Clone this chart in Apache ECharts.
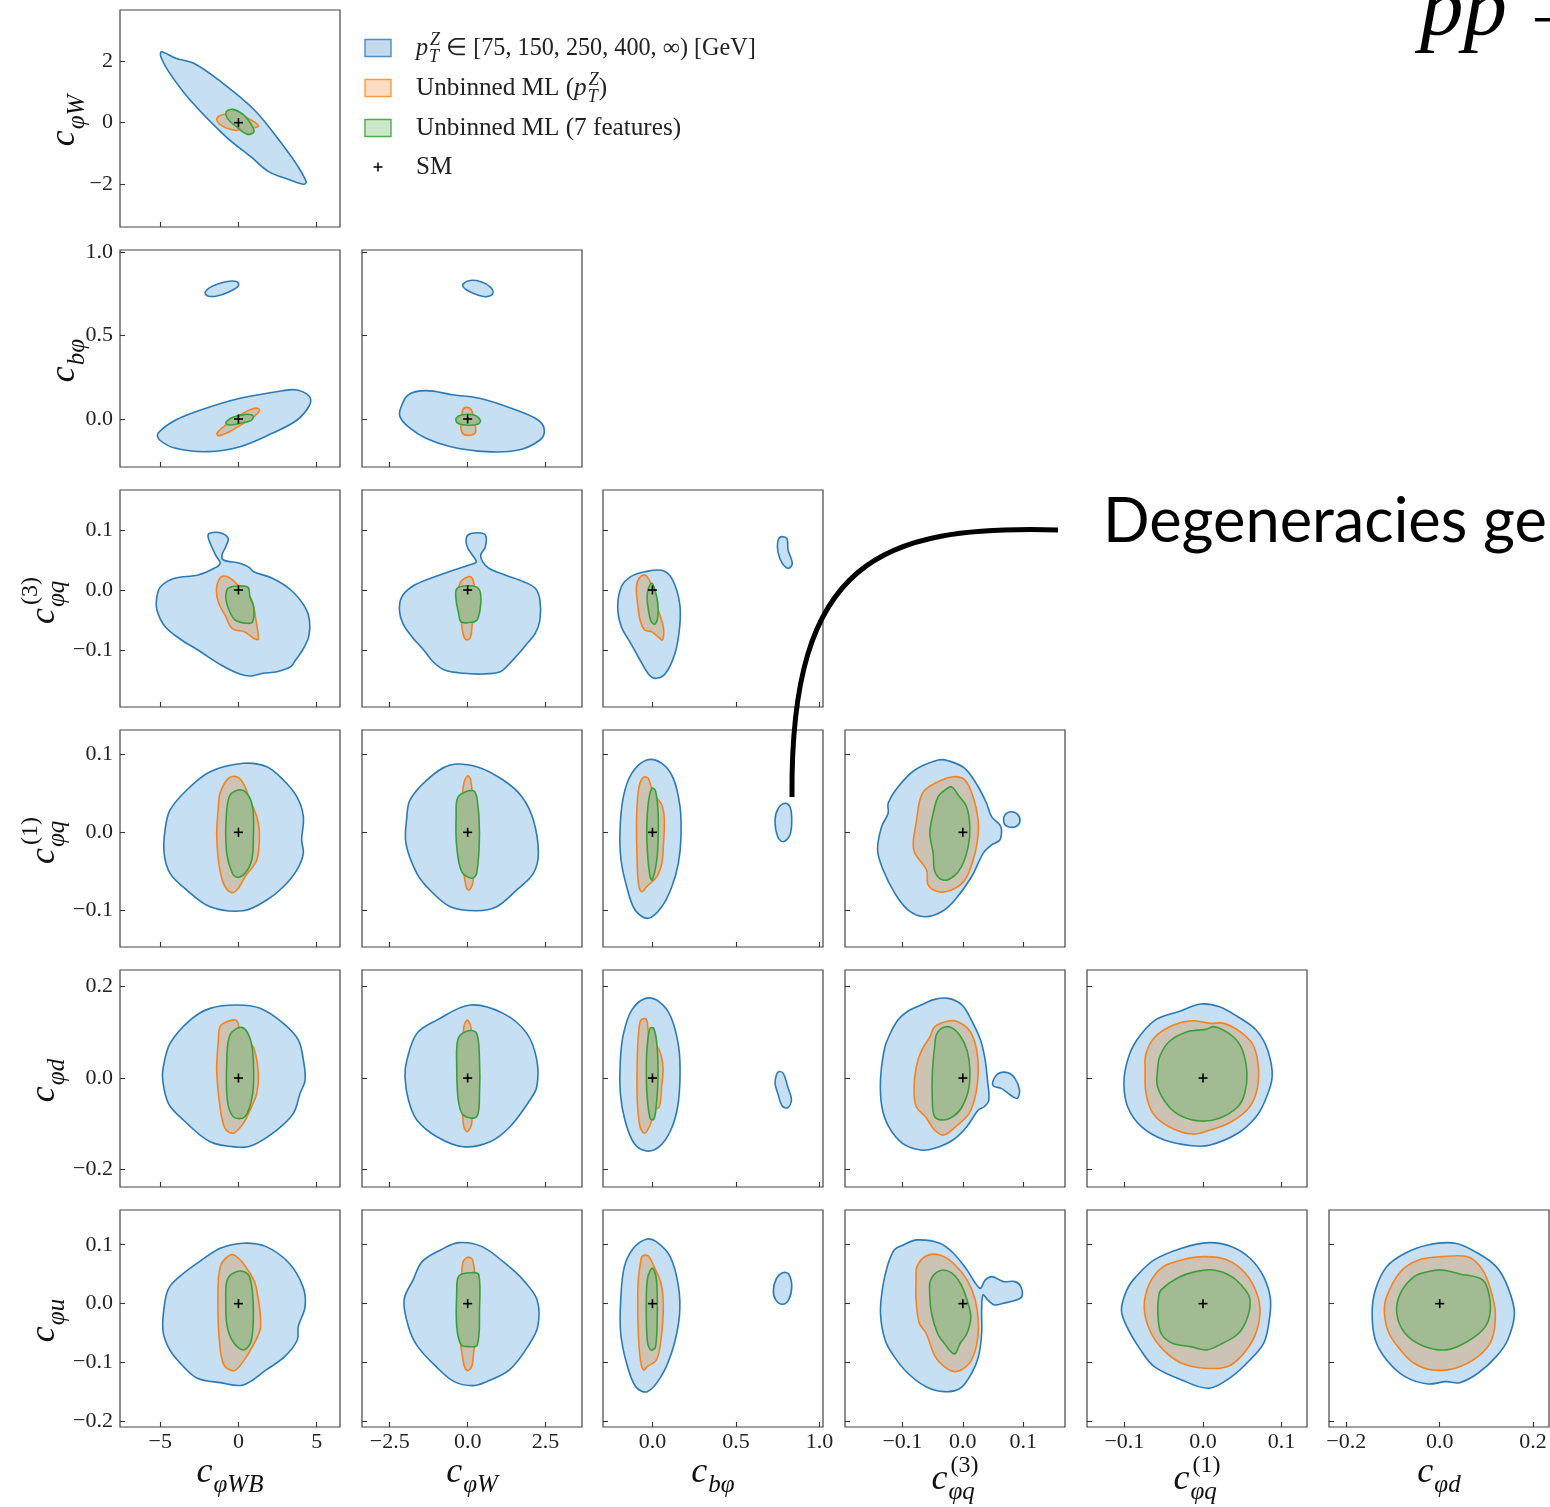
<!DOCTYPE html>
<html><head><meta charset="utf-8">
<script src="https://cdn.jsdelivr.net/npm/echarts@6/dist/echarts.min.js"></script>
<style>html,body{margin:0;padding:0;background:#fff}#c{width:1550px;height:1507px}</style>
</head><body><div id="c"></div>
<script>
// ---------------- DATA ----------------
const xRange_WB = [-7.57, 6.49], xRange_W = [-3.39, 3.67], xRange_bphi = [-0.296, 1.021],
      xRange_q3 = [-0.195, 0.169], xRange_q1 = [-0.1476, 0.1323], xRange_d = [-0.237, 0.234];
const yRange_W = [-3.37, 3.64], yRange_bphi = [-0.288, 1.014], yRange_q3 = [-0.195, 0.1667],
      yRange_q1 = [-0.1474, 0.1315], yRange_d = [-0.238, 0.236], yRange_u = [-0.2095, 0.159];
const xTicks_WB = [-5, 0, 5],        xLabels_WB = ['\u22125', '0', '5'];
const xTicks_W = [-2.5, 0, 2.5],     xLabels_W = ['\u22122.5', '0.0', '2.5'];
const xTicks_bphi = [0, 0.5, 1],     xLabels_bphi = ['0.0', '0.5', '1.0'];
const xTicks_q3 = [-0.1, 0, 0.1],    xLabels_q3 = ['\u22120.1', '0.0', '0.1'];
const xTicks_q1 = [-0.1, 0, 0.1],    xLabels_q1 = ['\u22120.1', '0.0', '0.1'];
const xTicks_d = [-0.2, 0, 0.2],     xLabels_d = ['\u22120.2', '0.0', '0.2'];
const yTicks_W = [-2, 0, 2],         yLabels_W = ['\u22122', '0', '2'];
const yTicks_bphi = [0, 0.5, 1],     yLabels_bphi = ['0.0', '0.5', '1.0'];
const yTicks_q3 = [-0.1, 0, 0.1],    yLabels_q3 = ['\u22120.1', '0.0', '0.1'];
const yTicks_q1 = [-0.1, 0, 0.1],    yLabels_q1 = ['\u22120.1', '0.0', '0.1'];
const yTicks_d = [-0.2, 0, 0.2],     yLabels_d = ['\u22120.2', '0.0', '0.2'];
const yTicks_u = [-0.2, -0.1, 0, 0.1], yLabels_u = ['\u22120.2', '\u22120.1', '0.0', '0.1'];

const xTitles = [['\u03c6WB', null], ['\u03c6W', null], ['b\u03c6', null], ['\u03c6q', '(3)'], ['\u03c6q', '(1)'], ['\u03c6d', null]];
const yTitles = [['\u03c6W', null], ['b\u03c6', null], ['\u03c6q', '(3)'], ['\u03c6q', '(1)'], ['\u03c6d', null], ['\u03c6u', null]];

const legendBinned = ' \u2208 [75, 150, 250, 400, \u221e) [GeV]';
const legendML1 = 'Unbinned ML (';
const legendML2 = 'Unbinned ML (7 features)';
const legendSM = 'SM';
const headline = ['pp', '\u2192'];
const annotation = 'Degeneracies ge';

const smPoint = [0, 0];

const WB_W_blue = [[-4.92,2.29],[-4.01,2.08],[-2.86,1.92],[-1.27,1.38],[1.02,0.41],[3.07,-0.88],[3.75,-1.37],[4.33,-1.91],[4.17,-1.99],[3.30,-1.85],[1.93,-1.58],[0.79,-1.10],[-0.81,-0.45],[-3.09,0.73],[-4.46,1.65],[-4.96,2.13]];
const WB_W_orange = [[-1.38,0.14],[-0.81,0.28],[0.10,0.25],[0.79,0.09],[1.29,-0.11],[0.68,-0.18],[-0.24,-0.24],[-1.15,-0.07]];
const WB_W_green = [[-0.77,0.36],[-0.35,0.43],[0.33,0.25],[0.90,-0.13],[0.97,-0.32],[0.55,-0.37],[-0.01,-0.18],[-0.70,0.14]];

const WB_bphi_blue = [[-5.14,-0.086],[-4.01,-0.006],[-2.41,0.054],[0.10,0.124],[2.84,0.170],[3.75,0.174],[4.55,0.134],[4.55,0.084],[3.75,-0.006],[2.15,-0.086],[0.10,-0.166],[-1.95,-0.196],[-4.01,-0.176],[-5.04,-0.126]];
const WB_bphi_island = [[-2.13,0.758],[-1.73,0.794],[-0.81,0.824],[-0.08,0.824],[-0.01,0.798],[-0.58,0.764],[-1.38,0.738],[-1.95,0.738]];
const WB_bphi_orange = [[-1.38,-0.086],[-0.81,-0.036],[0.10,0.024],[1.02,0.064],[1.34,0.058],[1.12,0.024],[0.33,-0.026],[-0.58,-0.076],[-1.27,-0.100]];
const WB_bphi_green = [[-0.81,-0.022],[-0.35,0.010],[0.45,0.028],[0.95,0.018],[0.79,-0.010],[0.10,-0.026],[-0.58,-0.036]];

const W_bphi_blue = [[-2.15,0.064],[-1.91,0.144],[-1.34,0.170],[-0.43,0.144],[0.38,0.124],[1.40,0.064],[2.26,-0.006],[2.46,-0.066],[2.32,-0.126],[1.64,-0.186],[0.60,-0.196],[-0.54,-0.166],[-1.34,-0.116],[-1.91,-0.046],[-2.17,0.014]];
const W_bphi_island = [[-0.16,0.804],[0.03,0.830],[0.43,0.824],[0.74,0.790],[0.81,0.754],[0.60,0.734],[0.32,0.744],[-0.03,0.774]];
const W_bphi_orange = [[-0.16,0.054],[-0.03,0.070],[0.12,0.054],[0.20,-0.006],[0.26,-0.076],[0.12,-0.096],[-0.14,-0.090],[-0.22,-0.046],[-0.18,0.004]];
const W_bphi_green = [[-0.37,0.004],[-0.20,0.024],[0.20,0.024],[0.41,-0.010],[0.32,-0.032],[-0.08,-0.036],[-0.34,-0.022]];

const WB_q3_blue = [[-1.85,0.0945],[-1.17,0.0955],[-0.66,0.0862],[-0.81,0.0722],[-1.05,0.0583],[-0.96,0.0500],[0.08,0.0445],[0.68,0.0378],[0.97,0.0305],[2.17,0.0195],[3.35,0.0],[4.24,-0.0278],[4.54,-0.050],[4.49,-0.0778],[4.10,-0.100],[3.65,-0.1167],[3.35,-0.1278],[2.46,-0.1362],[1.57,-0.1388],[0.82,-0.1433],[0.08,-0.140],[-1.11,-0.125],[-2.59,-0.100],[-3.64,-0.0833],[-4.68,-0.0612],[-5.21,-0.0333],[-5.21,-0.0112],[-4.98,0.0055],[-4.08,0.0195],[-2.59,0.025],[-1.55,0.0362],[-1.17,0.0445],[-1.46,0.0583],[-1.76,0.075],[-1.94,0.0888]];
const WB_q3_orange = [[-1.26,0.0167],[-0.96,0.0233],[-0.51,0.0195],[0.08,0.0055],[0.68,-0.0083],[0.97,-0.0278],[1.12,-0.050],[1.27,-0.0822],[0.97,-0.0805],[0.38,-0.0695],[-0.22,-0.0667],[-0.51,-0.0612],[-0.81,-0.0445],[-1.26,-0.0222],[-1.41,0.0]];
const WB_q3_green = [[-0.66,0.0028],[-0.07,0.0067],[0.61,0.0045],[0.73,-0.0112],[0.97,-0.0278],[0.91,-0.0528],[0.52,-0.0555],[-0.22,-0.050],[-0.51,-0.0388],[-0.75,-0.0222],[-0.81,-0.0083]];

const W_q3_blue = [[0.01,0.0917],[0.33,0.0955],[0.57,0.0917],[0.57,0.0722],[0.42,0.0583],[0.48,0.0472],[0.68,0.0362],[1.20,0.025],[1.80,0.0138],[2.17,0.0028],[2.32,-0.0167],[2.32,-0.050],[2.17,-0.0722],[1.87,-0.0917],[1.65,-0.1055],[1.35,-0.1222],[1.05,-0.1362],[0.46,-0.140],[-0.14,-0.1388],[-0.74,-0.1333],[-1.11,-0.1195],[-1.41,-0.100],[-1.79,-0.0778],[-2.08,-0.0555],[-2.19,-0.0333],[-2.11,-0.0112],[-1.79,0.0055],[-1.19,0.0195],[-0.44,0.0333],[0.15,0.0433],[0.28,0.0472],[0.15,0.0583],[0.01,0.0695],[-0.05,0.0805]];
const W_q3_orange = [[-0.25,0.0112],[0.01,0.0222],[0.15,0.0195],[0.23,0.0],[0.23,-0.0278],[0.15,-0.0555],[0.08,-0.0805],[-0.07,-0.0822],[-0.17,-0.0667],[-0.22,-0.0388],[-0.26,-0.0112]];
const W_q3_green = [[-0.34,0.0028],[0.15,0.0067],[0.38,0.0],[0.42,-0.0222],[0.30,-0.050],[0.01,-0.0545],[-0.22,-0.0528],[-0.29,-0.0388],[-0.37,-0.0167]];

const bphi_q3_blue = [[-0.046,0.0305],[0.065,0.0322],[0.121,0.0167],[0.163,-0.0222],[0.163,-0.0612],[0.135,-0.1055],[0.079,-0.1388],[0.023,-0.1472],[-0.019,-0.1417],[-0.074,-0.1167],[-0.130,-0.0888],[-0.186,-0.0612],[-0.208,-0.0278],[-0.186,0.0055],[-0.130,0.0222]];
const bphi_q3_island = [[0.762,0.0878],[0.804,0.0862],[0.812,0.0667],[0.837,0.0445],[0.817,0.0362],[0.790,0.040],[0.762,0.0528],[0.748,0.0722]];
const bphi_q3_orange = [[-0.080,0.0195],[-0.046,0.025],[-0.019,0.0167],[0.010,-0.0055],[0.038,-0.0362],[0.065,-0.0612],[0.060,-0.0833],[0.032,-0.0778],[-0.004,-0.0695],[-0.046,-0.0667],[-0.074,-0.050],[-0.089,-0.0222],[-0.096,0.0055]];
const bphi_q3_green = [[-0.024,0.0028],[-0.004,0.0112],[0.015,0.0],[0.032,-0.0222],[0.032,-0.0445],[0.015,-0.0567],[-0.007,-0.0528],[-0.024,-0.0333],[-0.032,-0.0112]];

const WB_q1_blue = [[-4.37,0.0287],[-3.30,0.0544],[-1.81,0.0779],[0.31,0.0887],[1.81,0.0843],[2.87,0.0672],[3.73,0.0458],[4.15,0.0201],[4.04,-0.0099],[4.15,-0.0270],[3.73,-0.0485],[2.87,-0.0699],[1.81,-0.0870],[0.31,-0.1008],[-1.81,-0.0956],[-3.30,-0.0742],[-4.37,-0.0527],[-4.75,-0.0270],[-4.69,0.0030]];
const WB_q1_orange = [[-1.18,0.0501],[-0.65,0.0694],[-0.11,0.0715],[0.31,0.0630],[0.74,0.0415],[1.17,0.0201],[1.34,-0.0013],[1.17,-0.0356],[0.42,-0.0571],[-0.01,-0.0720],[-0.43,-0.0776],[-0.96,-0.0656],[-1.28,-0.0356],[-1.39,-0.0013],[-1.28,0.0329]];
const WB_q1_green = [[-0.54,0.0479],[0.21,0.0544],[0.74,0.0437],[0.95,0.0244],[0.95,-0.0099],[0.85,-0.0356],[0.42,-0.0527],[-0.11,-0.0578],[-0.43,-0.0506],[-0.75,-0.0270],[-0.79,0.0158]];

const W_q1_blue = [[-1.85,0.0415],[-1.31,0.0672],[-0.56,0.0865],[0.29,0.0843],[1.14,0.0672],[1.74,0.0458],[2.11,0.0158],[2.27,-0.0270],[2.11,-0.0527],[1.57,-0.0742],[0.93,-0.0956],[0.29,-0.1008],[-0.56,-0.0956],[-1.21,-0.0742],[-1.63,-0.0527],[-1.98,-0.0141],[-1.95,0.0201]];
const W_q1_orange = [[-0.14,0.0586],[-0.01,0.0724],[0.10,0.0672],[0.18,0.0244],[0.16,-0.0270],[0.18,-0.0613],[0.05,-0.0742],[-0.05,-0.0699],[-0.16,-0.0356],[-0.19,0.0158]];
const W_q1_green = [[-0.30,0.0458],[0.18,0.0535],[0.31,0.0415],[0.38,-0.0013],[0.29,-0.0527],[0.13,-0.0591],[-0.19,-0.0506],[-0.35,-0.0185],[-0.37,0.0201]];

const bphi_q1_blue = [[-0.034,0.0929],[0.056,0.0887],[0.125,0.0694],[0.165,0.0329],[0.171,-0.0057],[0.155,-0.0398],[0.116,-0.0699],[0.056,-0.0956],[-0.025,-0.1105],[-0.104,-0.0999],[-0.154,-0.0699],[-0.188,-0.0356],[-0.194,0.0030],[-0.174,0.0458],[-0.124,0.0758]];
const bphi_q1_island = [[0.794,0.0373],[0.823,0.0329],[0.834,0.0158],[0.823,-0.0035],[0.783,-0.0121],[0.750,-0.0057],[0.734,0.0158],[0.753,0.0308]];
const bphi_q1_orange = [[-0.054,0.0707],[-0.025,0.0694],[0.005,0.0501],[0.056,0.0351],[0.071,0.0158],[0.065,-0.0185],[0.056,-0.0398],[0.026,-0.0571],[-0.034,-0.0699],[-0.064,-0.0763],[-0.084,-0.0656],[-0.094,-0.0185],[-0.094,0.0244],[-0.080,0.0586]];
const bphi_q1_green = [[-0.004,0.0566],[0.016,0.0544],[0.032,0.0329],[0.035,-0.0013],[0.026,-0.0356],[-0.001,-0.0613],[-0.014,-0.0571],[-0.028,-0.0314],[-0.034,0.0030],[-0.025,0.0373]];

const q3_q1_blue = [[-0.1236,0.0373],[-0.1070,0.0586],[-0.0794,0.0801],[-0.0409,0.0929],[-0.0243,0.0920],[0.0033,0.0823],[0.0253,0.0586],[0.0392,0.0373],[0.0475,0.0201],[0.0612,0.0094],[0.0640,0.0030],[0.0612,-0.0099],[0.0475,-0.0163],[0.0336,-0.0270],[0.0144,-0.0571],[-0.0132,-0.0870],[-0.0352,-0.1021],[-0.0629,-0.1085],[-0.0905,-0.0999],[-0.1125,-0.0784],[-0.1318,-0.0485],[-0.1411,-0.0228],[-0.1345,0.0072],[-0.1236,0.0244]];
const q3_q1_island = [[0.0695,0.0222],[0.0806,0.0265],[0.0915,0.0222],[0.0943,0.0136],[0.0872,0.0072],[0.0749,0.0072],[0.0683,0.0116]];
const q3_q1_orange = [[-0.0629,0.0544],[-0.0409,0.0650],[-0.0160,0.0715],[0.0033,0.0672],[0.0170,0.0458],[0.0253,0.0158],[0.0243,-0.0099],[0.0170,-0.0356],[0.0033,-0.0613],[-0.0187,-0.0742],[-0.0409,-0.0763],[-0.0574,-0.0677],[-0.0600,-0.0485],[-0.0794,-0.0270],[-0.0822,-0.0141],[-0.0766,0.0158],[-0.0711,0.0415]];
const q3_q1_green = [[-0.0409,0.0458],[-0.0298,0.0544],[-0.0187,0.0586],[-0.0078,0.0479],[0.0061,0.0329],[0.0116,0.0072],[0.0088,-0.0185],[-0.0022,-0.0442],[-0.0160,-0.0571],[-0.0326,-0.0613],[-0.0463,-0.0506],[-0.0491,-0.0270],[-0.0546,-0.0013],[-0.0491,0.0244]];

const WB_d_blue = [[-4.80,0.0247],[-4.37,0.0758],[-3.09,0.1266],[-1.81,0.1522],[-0.11,0.1594],[1.38,0.1522],[2.87,0.1194],[3.83,0.0830],[4.15,0.0393],[4.26,-0.0044],[3.94,-0.0334],[3.51,-0.0771],[2.45,-0.1135],[0.95,-0.1463],[0.10,-0.1513],[-1.81,-0.1391],[-3.52,-0.0917],[-4.48,-0.0552],[-4.84,-0.0044]];
const WB_d_orange = [[-1.18,0.1120],[-0.75,0.1229],[-0.15,0.1266],[0.10,0.1048],[0.42,0.0830],[0.95,0.0683],[1.27,0.0103],[1.17,-0.0334],[0.74,-0.0699],[0.31,-0.0989],[-0.33,-0.1207],[-0.86,-0.1098],[-1.18,-0.0627],[-1.39,0.0175],[-1.28,0.0830]];
const WB_d_green = [[-0.54,0.0939],[0.21,0.1107],[0.74,0.0867],[0.95,0.0393],[0.91,-0.0334],[0.42,-0.0845],[-0.33,-0.0845],[-0.71,-0.0480],[-0.75,0.0321]];

const W_d_blue = [[-1.95,0.0393],[-1.63,0.0976],[-0.99,0.1266],[0.08,0.1594],[1.14,0.1413],[1.90,0.0976],[2.22,0.0393],[2.22,-0.0190],[2.00,-0.0480],[1.36,-0.1063],[0.72,-0.1391],[-0.14,-0.1500],[-0.99,-0.1282],[-1.63,-0.0917],[-1.90,-0.0480],[-2.01,0.0028]];
const W_d_orange = [[-0.12,0.1120],[-0.01,0.1266],[0.10,0.1120],[0.18,0.0539],[0.16,-0.0334],[0.13,-0.0989],[-0.01,-0.1172],[-0.12,-0.1063],[-0.19,-0.0480],[-0.19,0.0393]];
const W_d_green = [[-0.30,0.0867],[0.02,0.1033],[0.29,0.0976],[0.38,0.0393],[0.38,-0.0334],[0.29,-0.0845],[-0.14,-0.0808],[-0.30,-0.0480],[-0.35,0.0247]];

const bphi_d_blue = [[-0.041,0.1740],[0.041,0.1666],[0.110,0.1338],[0.157,0.0683],[0.165,0.0028],[0.151,-0.0627],[0.110,-0.1135],[0.041,-0.1500],[-0.036,-0.1594],[-0.110,-0.1426],[-0.165,-0.0917],[-0.192,-0.0334],[-0.192,0.0393],[-0.173,0.0976],[-0.124,0.1485]];
const bphi_d_island = [[0.756,0.0138],[0.783,0.0103],[0.810,-0.0190],[0.832,-0.0480],[0.810,-0.0648],[0.777,-0.0611],[0.750,-0.0334],[0.734,-0.0116],[0.742,0.0066]];
const bphi_d_orange = [[-0.069,0.1266],[-0.036,0.1282],[-0.019,0.0902],[0.041,0.0611],[0.063,0.0247],[0.055,-0.0190],[0.041,-0.0627],[0.014,-0.0699],[-0.014,-0.1026],[-0.047,-0.1207],[-0.074,-0.1063],[-0.091,-0.0480],[-0.091,0.0393],[-0.083,0.0976]];
const bphi_d_green = [[-0.014,0.1085],[0.008,0.1085],[0.028,0.0683],[0.033,-0.0044],[0.022,-0.0627],[0.008,-0.0902],[-0.014,-0.0880],[-0.033,-0.0334],[-0.036,0.0393],[-0.028,0.0830]];

const q3_d_blue = [[-0.0923,0.1448],[-0.0695,0.1594],[-0.0467,0.1718],[-0.0240,0.1740],[-0.0012,0.1594],[0.0141,0.1266],[0.0293,0.0830],[0.0369,0.0393],[0.0407,-0.0044],[0.0430,-0.0480],[0.0354,-0.0627],[0.0255,-0.0699],[0.0065,-0.1063],[-0.0164,-0.1354],[-0.0467,-0.1535],[-0.0695,-0.1572],[-0.0999,-0.1426],[-0.1227,-0.1063],[-0.1340,-0.0627],[-0.1363,-0.0044],[-0.1302,0.0611],[-0.1227,0.0902],[-0.1075,0.1266]];
const q3_d_island = [[0.0505,-0.0044],[0.0596,0.0103],[0.0748,0.0116],[0.0862,-0.0007],[0.0938,-0.0262],[0.0900,-0.0443],[0.0786,-0.0371],[0.0634,-0.0225],[0.0505,-0.0175]];
const q3_d_orange = [[-0.0467,0.1120],[-0.0240,0.1245],[-0.0088,0.1229],[0.0103,0.1048],[0.0217,0.0683],[0.0255,0.0175],[0.0217,-0.0334],[0.0103,-0.0771],[-0.0088,-0.1026],[-0.0314,-0.1245],[-0.0467,-0.1135],[-0.0619,-0.0845],[-0.0771,-0.0627],[-0.0809,-0.0262],[-0.0771,0.0247],[-0.0680,0.0611],[-0.0543,0.0902]];
const q3_d_green = [[-0.0428,0.0976],[-0.0278,0.1120],[-0.0126,0.1048],[0.0026,0.0758],[0.0103,0.0393],[0.0103,-0.0190],[-0.0012,-0.0627],[-0.0164,-0.0845],[-0.0314,-0.0917],[-0.0467,-0.0845],[-0.0505,-0.0480],[-0.0505,0.0103],[-0.0467,0.0683]];

const q1_d_blue = [[-0.0959,0.0393],[-0.0842,0.0830],[-0.0609,0.1266],[-0.0317,0.1448],[-0.0025,0.1616],[0.0209,0.1557],[0.0443,0.1338],[0.0676,0.1048],[0.0822,0.0611],[0.0880,0.0028],[0.0793,-0.0480],[0.0676,-0.0845],[0.0443,-0.1207],[0.0092,-0.1463],[-0.0141,-0.1478],[-0.0492,-0.1354],[-0.0784,-0.1063],[-0.0959,-0.0627],[-0.1006,-0.0116]];
const q1_d_orange = [[-0.0725,0.0539],[-0.0609,0.0902],[-0.0375,0.1157],[-0.0141,0.1251],[0.0092,0.1194],[0.0267,0.1194],[0.0501,0.0976],[0.0648,0.0683],[0.0706,0.0175],[0.0676,-0.0334],[0.0560,-0.0699],[0.0326,-0.0989],[0.0092,-0.1135],[-0.0141,-0.1223],[-0.0433,-0.1063],[-0.0637,-0.0771],[-0.0725,-0.0334],[-0.0737,0.0175]];
const q1_d_green = [[-0.0551,0.0465],[-0.0434,0.0793],[-0.0200,0.1011],[0.0033,0.1063],[0.0150,0.1120],[0.0384,0.0902],[0.0501,0.0611],[0.0559,0.0103],[0.0531,-0.0334],[0.0443,-0.0627],[0.0209,-0.0880],[-0.0025,-0.0939],[-0.0258,-0.0845],[-0.0434,-0.0627],[-0.0579,-0.0190],[-0.0579,0.0175]];

const WB_u_blue = [[-4.68,0.0063],[-4.39,0.0289],[-3.51,0.0516],[-2.34,0.0742],[-1.16,0.0941],[0.30,0.1026],[1.77,0.0968],[3.24,0.0686],[4.12,0.0289],[4.26,-0.0051],[3.82,-0.0391],[3.76,-0.0617],[2.95,-0.0900],[1.77,-0.1126],[0.30,-0.1381],[-1.16,-0.1342],[-2.63,-0.1267],[-3.51,-0.1070],[-4.39,-0.0786],[-4.83,-0.0447]];
const WB_u_orange = [[-1.16,0.0628],[-0.52,0.0827],[0.01,0.0771],[0.74,0.0516],[1.12,0.0289],[1.42,-0.0391],[0.89,-0.0730],[0.30,-0.0985],[-0.28,-0.1138],[-0.93,-0.1041],[-1.22,-0.0617],[-1.31,0.0063]];
const WB_u_green = [[-0.72,0.0403],[-0.28,0.0526],[0.36,0.0543],[0.74,0.0431],[0.95,-0.0051],[0.83,-0.0617],[0.36,-0.0786],[-0.28,-0.0673],[-0.72,-0.0391],[-0.81,0.0063]];

const W_u_blue = [[-1.75,0.0403],[-1.46,0.0713],[-0.87,0.0912],[-0.28,0.1036],[0.46,0.0968],[1.20,0.0686],[1.78,0.0403],[2.23,0.0063],[2.25,-0.0391],[1.93,-0.0730],[1.34,-0.1126],[0.61,-0.1325],[0.16,-0.1393],[-0.43,-0.1325],[-1.01,-0.1070],[-1.60,-0.0730],[-1.90,-0.0391],[-2.04,0.0063]];
const W_u_orange = [[-0.16,0.0686],[-0.01,0.0788],[0.16,0.0742],[0.24,0.0346],[0.27,-0.0391],[0.19,-0.0842],[0.13,-0.1070],[-0.01,-0.1138],[-0.13,-0.1012],[-0.25,-0.0503],[-0.21,0.0063]];
const W_u_green = [[-0.28,0.0470],[0.16,0.0526],[0.36,0.0487],[0.38,-0.0107],[0.31,-0.0701],[0.02,-0.0730],[-0.21,-0.0701],[-0.35,-0.0391],[-0.35,0.0177]];

const bphi_u_blue = [[-0.037,0.1094],[0.023,0.1053],[0.106,0.0798],[0.156,0.0289],[0.161,-0.0221],[0.120,-0.0786],[0.051,-0.1240],[-0.031,-0.1495],[-0.100,-0.1410],[-0.155,-0.1012],[-0.190,-0.0503],[-0.190,0.0063],[-0.168,0.0628],[-0.114,0.0941]];
const bphi_u_island = [[0.779,0.0526],[0.815,0.0504],[0.834,0.0289],[0.815,0.0063],[0.779,-0.0010],[0.738,0.0063],[0.724,0.0233],[0.743,0.0431]];
const bphi_u_orange = [[-0.059,0.0810],[-0.026,0.0810],[0.010,0.0628],[0.051,0.0346],[0.065,-0.0051],[0.051,-0.0617],[0.024,-0.0956],[-0.031,-0.1070],[-0.053,-0.1126],[-0.072,-0.0956],[-0.086,-0.0391],[-0.086,0.0346],[-0.072,0.0686]];
const bphi_u_green = [[-0.017,0.0543],[0.002,0.0601],[0.024,0.0403],[0.029,-0.0107],[0.019,-0.0730],[-0.009,-0.0786],[-0.031,-0.0617],[-0.037,0.0063],[-0.031,0.0403]];

const q3_u_blue = [[-0.1136,0.0912],[-0.0986,0.0997],[-0.0759,0.1082],[-0.0382,0.1026],[-0.0156,0.0856],[0.0069,0.0572],[0.0281,0.0262],[0.0372,0.0403],[0.0485,0.0459],[0.0673,0.0374],[0.0862,0.0374],[0.0959,0.0289],[0.0976,0.0119],[0.0885,0.0063],[0.0673,0.0007],[0.0523,-0.0022],[0.0410,0.0063],[0.0334,0.0148],[0.0311,-0.0107],[0.0311,-0.0503],[0.0258,-0.0900],[0.0146,-0.1182],[-0.0043,-0.1437],[-0.0308,-0.1495],[-0.0609,-0.1410],[-0.0910,-0.1182],[-0.1136,-0.0900],[-0.1287,-0.0617],[-0.1363,-0.0163],[-0.1325,0.0289],[-0.1251,0.0628]];
const q3_u_orange = [[-0.0759,0.0628],[-0.0609,0.0810],[-0.0382,0.0827],[-0.0156,0.0686],[0.0069,0.0403],[0.0205,0.0063],[0.0258,-0.0391],[0.0222,-0.0730],[0.0108,-0.1012],[-0.0119,-0.1155],[-0.0308,-0.1070],[-0.0458,-0.0900],[-0.0609,-0.0503],[-0.0721,-0.0333],[-0.0774,0.0063],[-0.0774,0.0403]];
const q3_u_green = [[-0.0533,0.0403],[-0.0382,0.0560],[-0.0194,0.0526],[-0.0043,0.0346],[0.0069,0.0063],[0.0131,-0.0221],[0.0069,-0.0503],[-0.0043,-0.0673],[-0.0141,-0.0854],[-0.0308,-0.0673],[-0.0420,-0.0503],[-0.0518,-0.0163],[-0.0549,0.0177]];

const q1_u_blue = [[-0.0852,0.0459],[-0.0621,0.0742],[-0.0272,0.0941],[0.0075,0.1036],[0.0365,0.0968],[0.0598,0.0771],[0.0771,0.0459],[0.0859,0.0063],[0.0830,-0.0391],[0.0771,-0.0673],[0.0598,-0.0956],[0.0365,-0.1240],[0.0075,-0.1437],[-0.0272,-0.1296],[-0.0621,-0.1070],[-0.0795,-0.0786],[-0.0969,-0.0391],[-0.1038,-0.0107],[-0.0969,0.0233]];
const q1_u_orange = [[-0.0679,0.0346],[-0.0505,0.0628],[-0.0272,0.0742],[0.0018,0.0798],[0.0308,0.0742],[0.0539,0.0516],[0.0684,0.0177],[0.0725,-0.0163],[0.0655,-0.0560],[0.0481,-0.0900],[0.0308,-0.1070],[0.0018,-0.1097],[-0.0272,-0.1012],[-0.0505,-0.0786],[-0.0679,-0.0447],[-0.0748,-0.0051]];
const q1_u_green = [[-0.0534,0.0233],[-0.0331,0.0431],[-0.0099,0.0543],[0.0134,0.0572],[0.0365,0.0459],[0.0539,0.0233],[0.0598,0.0063],[0.0569,-0.0221],[0.0453,-0.0503],[0.0249,-0.0673],[0.0046,-0.0786],[-0.0156,-0.0730],[-0.0389,-0.0673],[-0.0534,-0.0503],[-0.0575,-0.0163],[-0.0564,0.0119]];

const d_u_blue = [[-0.1378,0.0233],[-0.1136,0.0628],[-0.0743,0.0856],[-0.0255,0.0997],[0.0332,0.1026],[0.0818,0.0856],[0.1210,0.0628],[0.1455,0.0289],[0.1600,-0.0163],[0.1455,-0.0617],[0.1210,-0.0900],[0.0818,-0.1182],[0.0428,-0.1342],[0.0135,-0.1325],[-0.0255,-0.1364],[-0.0743,-0.1240],[-0.1136,-0.0956],[-0.1378,-0.0617],[-0.1446,-0.0163]];
const d_u_orange = [[-0.1136,0.0119],[-0.0840,0.0543],[-0.0450,0.0742],[0.0039,0.0798],[0.0626,0.0788],[0.0919,0.0572],[0.1093,0.0233],[0.1191,-0.0163],[0.1112,-0.0617],[0.0818,-0.0900],[0.0332,-0.1097],[-0.0156,-0.1126],[-0.0548,-0.1012],[-0.0840,-0.0786],[-0.1086,-0.0503],[-0.1183,-0.0163]];
const d_u_green = [[-0.0840,0.0177],[-0.0548,0.0459],[-0.0255,0.0543],[0.0039,0.0572],[0.0428,0.0504],[0.0919,0.0403],[0.1065,0.0119],[0.1065,-0.0221],[0.0919,-0.0447],[0.0527,-0.0673],[0.0135,-0.0786],[-0.0354,-0.0718],[-0.0743,-0.0503],[-0.0919,-0.0163]];

// ---------------- ASSEMBLY ----------------
const xAxesDef = [
  {range: xRange_WB, ticks: xTicks_WB, labels: xLabels_WB},
  {range: xRange_W, ticks: xTicks_W, labels: xLabels_W},
  {range: xRange_bphi, ticks: xTicks_bphi, labels: xLabels_bphi},
  {range: xRange_q3, ticks: xTicks_q3, labels: xLabels_q3},
  {range: xRange_q1, ticks: xTicks_q1, labels: xLabels_q1},
  {range: xRange_d, ticks: xTicks_d, labels: xLabels_d}];
const yAxesDef = [
  {range: yRange_W, ticks: yTicks_W, labels: yLabels_W},
  {range: yRange_bphi, ticks: yTicks_bphi, labels: yLabels_bphi},
  {range: yRange_q3, ticks: yTicks_q3, labels: yLabels_q3},
  {range: yRange_q1, ticks: yTicks_q1, labels: yLabels_q1},
  {range: yRange_d, ticks: yTicks_d, labels: yLabels_d},
  {range: yRange_u, ticks: yTicks_u, labels: yLabels_u}];

const panels = [
  {r:0,c:0, blue:[WB_W_blue], orange:WB_W_orange, green:WB_W_green},
  {r:1,c:0, blue:[WB_bphi_blue, WB_bphi_island], orange:WB_bphi_orange, green:WB_bphi_green},
  {r:1,c:1, blue:[W_bphi_blue, W_bphi_island], orange:W_bphi_orange, green:W_bphi_green},
  {r:2,c:0, blue:[WB_q3_blue], orange:WB_q3_orange, green:WB_q3_green},
  {r:2,c:1, blue:[W_q3_blue], orange:W_q3_orange, green:W_q3_green},
  {r:2,c:2, blue:[bphi_q3_blue, bphi_q3_island], orange:bphi_q3_orange, green:bphi_q3_green},
  {r:3,c:0, blue:[WB_q1_blue], orange:WB_q1_orange, green:WB_q1_green},
  {r:3,c:1, blue:[W_q1_blue], orange:W_q1_orange, green:W_q1_green},
  {r:3,c:2, blue:[bphi_q1_blue, bphi_q1_island], orange:bphi_q1_orange, green:bphi_q1_green},
  {r:3,c:3, blue:[q3_q1_blue, q3_q1_island], orange:q3_q1_orange, green:q3_q1_green},
  {r:4,c:0, blue:[WB_d_blue], orange:WB_d_orange, green:WB_d_green},
  {r:4,c:1, blue:[W_d_blue], orange:W_d_orange, green:W_d_green},
  {r:4,c:2, blue:[bphi_d_blue, bphi_d_island], orange:bphi_d_orange, green:bphi_d_green},
  {r:4,c:3, blue:[q3_d_blue, q3_d_island], orange:q3_d_orange, green:q3_d_green},
  {r:4,c:4, blue:[q1_d_blue], orange:q1_d_orange, green:q1_d_green},
  {r:5,c:0, blue:[WB_u_blue], orange:WB_u_orange, green:WB_u_green},
  {r:5,c:1, blue:[W_u_blue], orange:W_u_orange, green:W_u_green},
  {r:5,c:2, blue:[bphi_u_blue, bphi_u_island], orange:bphi_u_orange, green:bphi_u_green},
  {r:5,c:3, blue:[q3_u_blue], orange:q3_u_orange, green:q3_u_green},
  {r:5,c:4, blue:[q1_u_blue], orange:q1_u_orange, green:q1_u_green},
  {r:5,c:5, blue:[d_u_blue], orange:d_u_orange, green:d_u_green}];

const colLeft = [120, 362, 603, 845, 1087, 1329];
const rowTop = [10, 250, 490, 730, 970, 1210];
const PW = 220, PH = 217;
const SERIF = 'Liberation Serif';
const STY = {
  blue:   {fill: '#c7dff2', stroke: '#2a7ab8'},
  orange: {fill: '#cdc3b5', stroke: '#f7821c'},
  green:  {fill: '#a2bb93', stroke: '#3a9f3a'}
};

function fmt(def) {
  return function (v) {
    const i = def.ticks.findIndex(t => Math.abs(t - v) < 1e-9);
    return i >= 0 ? def.labels[i] : '';
  };
}

const grids = [], xAxes = [], yAxes = [], series = [];
panels.forEach((p, gi) => {
  grids.push({left: colLeft[p.c], top: rowTop[p.r], width: PW, height: PH, show: true,
    borderColor: '#444', borderWidth: 1.2, backgroundColor: 'rgba(0,0,0,0)', containLabel: false});
  const xd = xAxesDef[p.c], yd = yAxesDef[p.r];
  xAxes.push({gridIndex: gi, type: 'value', min: xd.range[0], max: xd.range[1],
    axisLine: {show: false, onZero: false}, splitLine: {show: false},
    axisTick: {show: true, inside: true, length: 5, customValues: xd.ticks, lineStyle: {color: '#333', width: 1.1}},
    axisLabel: {show: p.r === 5, customValues: xd.ticks, formatter: fmt(xd), fontFamily: SERIF, fontSize: 22, color: '#222', margin: 4, hideOverlap: false}});
  yAxes.push({gridIndex: gi, type: 'value', min: yd.range[0], max: yd.range[1],
    axisLine: {show: false, onZero: false}, splitLine: {show: false},
    axisTick: {show: true, inside: true, length: 5, customValues: yd.ticks, lineStyle: {color: '#333', width: 1.1}},
    axisLabel: {show: p.c === 0, customValues: yd.ticks, formatter: fmt(yd), fontFamily: SERIF, fontSize: 22, color: '#222', margin: 7, hideOverlap: false}});
  const poly = (pts, sty, z) => ({
    type: 'custom', coordinateSystem: 'cartesian2d', xAxisIndex: gi, yAxisIndex: gi,
    clip: true, silent: true, z: z, data: pts,
    renderItem: function (params, api) {
      if (params.dataIndex !== 0) return null;
      const points = pts.map(q => api.coord(q));
      return {type: 'polygon', shape: {points: points, smooth: 0.35},
        style: {fill: sty.fill, stroke: sty.stroke, lineWidth: 1.6}};
    }
  });
  p.blue.forEach(b => series.push(poly(b, STY.blue, 2)));
  series.push(poly(p.orange, STY.orange, 3));
  series.push(poly(p.green, STY.green, 4));
  series.push({type: 'custom', coordinateSystem: 'cartesian2d', xAxisIndex: gi, yAxisIndex: gi,
    silent: true, z: 5, data: [smPoint],
    renderItem: function (params, api) {
      const c = api.coord([api.value(0), api.value(1)]);
      return {type: 'group', children: [
        {type: 'line', shape: {x1: c[0] - 4.5, y1: c[1], x2: c[0] + 4.5, y2: c[1]}, style: {stroke: '#000', lineWidth: 1.6}},
        {type: 'line', shape: {x1: c[0], y1: c[1] - 4.5, x2: c[0], y2: c[1] + 4.5}, style: {stroke: '#000', lineWidth: 1.6}}]};
    }});
});

// ---------------- TEXT HELPERS ----------------
const mctx = document.createElement('canvas').getContext('2d');
function tw(t, size, italic, fam) {
  mctx.font = (italic ? 'italic ' : '') + size + 'px "' + (fam || SERIF) + '"';
  return mctx.measureText(t).width;
}
function run(items, color) {
  let x = 0, pend = 0; const ch = [];
  items.forEach(it => {
    const k = it.k || 0;
    const w = tw(it.t, it.s, it.it) + k;
    ch.push({type: 'text', x: x + k, y: (it.rise || 0) - 0.34 * it.s,
      style: {text: it.t, fontFamily: SERIF, fontStyle: it.it ? 'italic' : 'normal', fontSize: it.s,
        fill: color || '#111', textAlign: 'left', textVerticalAlign: 'middle', align: 'left', verticalAlign: 'middle'}});
    if (it.stack) pend = Math.max(pend, w); else { x += Math.max(pend, w); pend = 0; }
  });
  return {ch: ch, w: x};
}
function titleRun(sub, sup) {
  const items = [{t: 'c', s: 36, it: true}];
  if (sup) { items.push({t: sub, s: 25, it: true, rise: 9, stack: true, k: 1}); items.push({t: sup, s: 24, rise: -18, k: 3}); }
  else items.push({t: sub, s: 25, it: true, rise: 9, k: 1});
  return run(items);
}

const graphics = [];
xTitles.forEach((tt, c) => {
  const r = titleRun(tt[0], tt[1]);
  r.ch.forEach(e => { e.x -= r.w / 2; });
  graphics.push({type: 'group', x: colLeft[c] + PW / 2, y: tt[1] ? 1492 : 1485, children: r.ch});
});
yTitles.forEach((tt, rr) => {
  const r = titleRun(tt[0], tt[1]);
  r.ch.forEach(e => { e.x -= r.w / 2; });
  graphics.push({type: 'group', x: rr < 2 ? 77 : 57, y: rowTop[rr] + PH / 2 + 2, rotation: Math.PI / 2, children: r.ch});
});

// legend
const legRows = [48, 88, 128, 167];
const legFill = [['#c4daec', '#4a8fc6'], ['#fddcc1', '#f99a3e'], ['#cde7c9', '#4caf4c']];
legFill.forEach((f, i) => {
  graphics.push({type: 'rect', shape: {x: 365, y: legRows[i] - 8.5, width: 26, height: 17},
    style: {fill: f[0], stroke: f[1], lineWidth: 1.4}});
});
graphics.push({type: 'group', children: [
  {type: 'line', shape: {x1: 373.5, y1: legRows[3], x2: 382.5, y2: legRows[3]}, style: {stroke: '#000', lineWidth: 1.5}},
  {type: 'line', shape: {x1: 378, y1: legRows[3] - 4.5, x2: 378, y2: legRows[3] + 4.5}, style: {stroke: '#000', lineWidth: 1.5}}]});
const LS = 25.2, LS1 = 24.2;
const pTZ = (s) => [{t: 'p', s: s, it: true}, {t: 'T', s: 18, it: true, rise: 6, stack: true, k: 1}, {t: 'Z', s: 18, it: true, rise: -11, k: 2}];
const legItems = [
  pTZ(LS1).concat([{t: legendBinned, s: LS1}]),
  [{t: legendML1, s: LS}].concat(pTZ(LS)).concat([{t: ')', s: LS}]),
  [{t: legendML2, s: LS}],
  [{t: legendSM, s: LS}]];
legItems.forEach((items, i) => {
  const r = run(items, '#222');
  graphics.push({type: 'group', x: 416, y: legRows[i] + 9, children: r.ch});
});

// overlay annotations
const ppSize = 80 * 87 / tw('pp', 80, true);
graphics.push({type: 'text', x: 1420, y: 41 - 0.34 * ppSize,
  style: {text: headline[0], fontFamily: SERIF, fontStyle: 'italic', fontSize: ppSize, fill: '#000', textAlign: 'left', textVerticalAlign: 'middle', align: 'left', verticalAlign: 'middle'}});
graphics.push({type: 'text', x: 1517, y: 41 - 0.34 * ppSize,
  style: {text: headline[1], fontFamily: SERIF, fontSize: ppSize, fill: '#000', textAlign: 'left', textVerticalAlign: 'middle', align: 'left', verticalAlign: 'middle'}});
const annSize = 60 * 412 / tw('Degeneracies g', 60, false, 'Lato');
graphics.push({type: 'text', x: 1103, y: 546 - 0.39 * annSize,
  style: {text: annotation, fontFamily: 'Lato', fontSize: annSize, fill: '#000', textAlign: 'left', textVerticalAlign: 'middle', align: 'left', verticalAlign: 'middle'}});
graphics.push({type: 'bezierCurve', z: 100,
  shape: {x1: 1058, y1: 530, cpx1: 880, cpy1: 525, cpx2: 790, cpy2: 560, x2: 792, y2: 797},
  style: {stroke: '#000', lineWidth: 5, fill: null}});

const chart = echarts.init(document.getElementById('c'), null, {renderer: 'canvas', width: 1550, height: 1507});
chart.setOption({
  animation: false,
  backgroundColor: '#fff',
  grid: grids, xAxis: xAxes, yAxis: yAxes, series: series,
  graphic: {elements: graphics}
});
</script>
</body></html>
